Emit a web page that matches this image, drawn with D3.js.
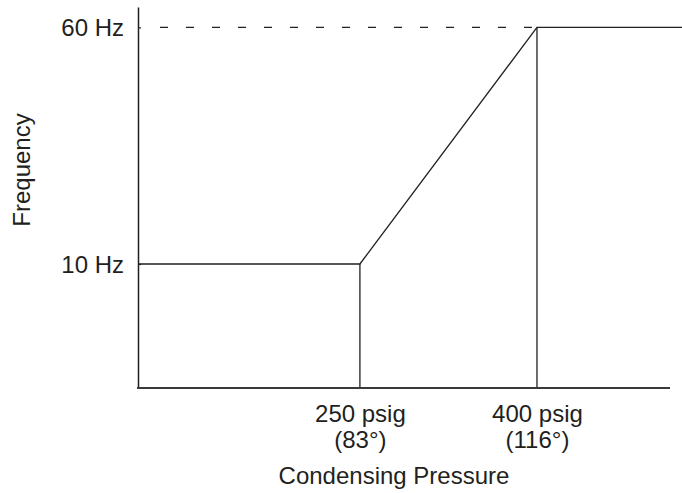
<!DOCTYPE html>
<html>
<head>
<meta charset="utf-8">
<script src="https://cdn.jsdelivr.net/npm/d3@7"></script>
<style>
  html, body { margin: 0; padding: 0; background: #fff; }
  svg text { font-family: "Liberation Sans", Arial, Helvetica, sans-serif; fill: #231f20; }
</style>
</head>
<body>
<svg id="chart" width="682" height="493"></svg>
<script>
// ---- data ----
const pressurePsig = [62, 250, 400, 523];          // curve breakpoints (schematic x)
const frequencyHz  = [10, 10, 60, 60];             // frequency at breakpoints
const xTickValues  = [250, 400];
const xTickLine1   = ["250 psig", "400 psig"];
const xTickLine2   = ["(83°)", "(116°)"];
const yTickValues  = [10, 60];
const yTickLabels  = ["10 Hz", "60 Hz"];
const xTitle = "Condensing Pressure";
const yTitle = "Frequency";

const ink = "#231f20";
const fontFam = '"Liberation Sans", Arial, Helvetica, sans-serif';
const svg = d3.select("#chart");

const x = d3.scaleLinear().domain([62, 511]).range([138, 668]);
const y = d3.scaleLinear().domain([-16.2, 64.3]).range([388, 7]);

// dashed reference line at 60 Hz
svg.append("line")
  .attr("x1", x(62) + 22).attr("x2", x(400))
  .attr("y1", y(60)).attr("y2", y(60))
  .attr("stroke", ink).attr("stroke-width", 1.2)
  .attr("stroke-dasharray", "8,18");

// vertical drop lines at breakpoints
svg.selectAll("line.drop").data([1, 2]).enter().append("line")
  .attr("class", "drop")
  .attr("x1", i => x(pressurePsig[i])).attr("x2", i => x(pressurePsig[i]))
  .attr("y1", i => y(frequencyHz[i])).attr("y2", y.range()[0])
  .attr("stroke", ink).attr("stroke-width", 1.3);

// frequency curve
const line = d3.line().x((d, i) => x(pressurePsig[i])).y(d => y(d));
svg.append("path")
  .datum(frequencyHz)
  .attr("d", line)
  .attr("fill", "none")
  .attr("stroke", ink)
  .attr("stroke-width", 1.3);

// left axis
const yAxis = d3.axisLeft(y)
  .tickValues(yTickValues)
  .tickFormat((d, i) => yTickLabels[i])
  .tickSizeInner(-3)
  .tickSizeOuter(0)
  .tickPadding(14);
const gy = svg.append("g").attr("transform", `translate(${x.range()[0]},0)`).call(yAxis);
gy.select(".domain").attr("stroke", ink).attr("stroke-width", 1.5);
gy.selectAll(".tick line").attr("stroke", ink).attr("stroke-width", 1.2);
gy.selectAll(".tick text").attr("font-size", 24).attr("dy", "0.36em")
  .style("font-family", fontFam).attr("fill", ink);

// bottom axis
const xAxis = d3.axisBottom(x)
  .tickValues(xTickValues)
  .tickFormat("")
  .tickSize(0)
  .tickSizeOuter(0);
const gx = svg.append("g").attr("transform", `translate(0,${y.range()[0]})`).call(xAxis);
gx.select(".domain").attr("stroke", "#3a3a3a").attr("stroke-width", 2)
  .attr("d", `M${x.range()[0] - 1},0H${x.range()[1] + 2}`);
gx.selectAll(".tick text").each(function(d, i) {
  const t = d3.select(this).text(null).attr("dy", null).attr("y", 0)
    .attr("font-size", 24).attr("fill", ink)
    .style("font-family", fontFam);
  t.append("tspan").attr("x", 0).attr("y", 34).text(xTickLine1[i]);
  t.append("tspan").attr("x", 0).attr("y", 60).text(xTickLine2[i]);
});

// axis titles
svg.append("text")
  .attr("x", 394).attr("y", 484)
  .attr("text-anchor", "middle")
  .attr("font-size", 24)
  .text(xTitle);

svg.append("text")
  .attr("transform", "translate(30,170) rotate(-90)")
  .attr("text-anchor", "middle")
  .attr("font-size", 24)
  .text(yTitle);
</script>
</body>
</html>
